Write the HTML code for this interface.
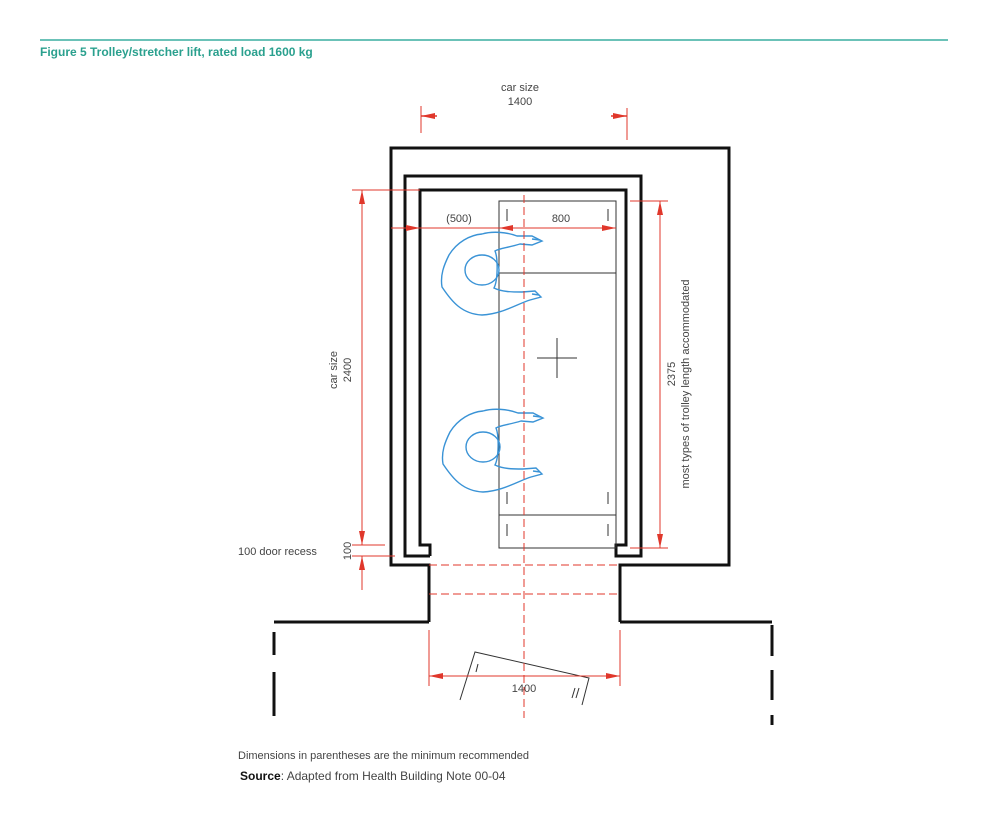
<!DOCTYPE html>
<html><head><meta charset="utf-8"><style>
html,body{margin:0;padding:0;background:#fff;}
svg{display:block;font-family:"Liberation Sans",sans-serif;}
</style></head><body>
<svg width="992" height="819" viewBox="0 0 992 819" xmlns="http://www.w3.org/2000/svg">
<defs>
<marker id="ar" viewBox="0 0 14 6" refX="14" refY="3" markerWidth="14" markerHeight="6" orient="auto-start-reverse" markerUnits="userSpaceOnUse"><path d="M0,0 L14,3 L0,6 Z" fill="#e0372b"/></marker>
<g id="fig" fill="none" stroke="#3a93d6" stroke-width="1.4">
<path d="M0,-36 C10,-39 25,-38 35,-34 L50,-34 L60,-29 L50,-25 L38,-26 C25,-22 18,-22 13,-19 C16,-12 16,10 12,18 C20,22 30,22 40,22 L53,21 L59,27 L48,30 C35,34 20,44 0,45 C-20,44 -30,32 -40,17 C-42,5 -38,-5 -33,-15 C-25,-28 -12,-35 0,-36 Z"/>
<ellipse cx="0" cy="0" rx="17" ry="15"/>
<path d="M50,-31 L58,-30 M50,24 L57,25"/>
</g>
</defs>
<line x1="40" y1="40" x2="948" y2="40" stroke="#3aaea0" stroke-width="1.5"/>
<text x="40" y="56" font-size="12" font-weight="bold" fill="#2aa08e">Figure 5 Trolley/stretcher lift, rated load 1600 kg</text>

<g fill="none" stroke="#111" stroke-width="3">
<polyline points="429,622 429,565 391,565 391,148 729,148 729,565 620,565 620,622"/>
<polyline points="274,622 429,622"/>
<polyline points="620,622 772,622"/>
<polyline points="430,556 405,556 405,176 641,176 641,556 616,556 616,545 626,545 626,190 420,190 420,545 430,545 430,556"/>
<line x1="274" y1="632" x2="274" y2="655"/><line x1="274" y1="672" x2="274" y2="716"/>
<line x1="772" y1="625" x2="772" y2="656"/><line x1="772" y1="670" x2="772" y2="700"/><line x1="772" y1="715" x2="772" y2="725"/>
</g>
<g fill="none" stroke="#333" stroke-width="1">
<rect x="499" y="201" width="117" height="347"/>
<line x1="499" y1="273" x2="616" y2="273"/><line x1="499" y1="515" x2="616" y2="515"/>
<line x1="507" y1="209" x2="507" y2="221"/><line x1="608" y1="209" x2="608" y2="221"/>
<line x1="507" y1="492" x2="507" y2="504"/><line x1="608" y1="492" x2="608" y2="504"/>
<line x1="507" y1="524" x2="507" y2="536"/><line x1="608" y1="524" x2="608" y2="536"/>
<line x1="537" y1="358" x2="577" y2="358"/><line x1="557" y1="338" x2="557" y2="378"/>
<polyline points="460,700 475,652 589,678 582,705"/>
<line x1="478" y1="664" x2="476" y2="672"/><line x1="575" y1="688" x2="572" y2="698"/><line x1="579" y1="688" x2="576" y2="698"/>
</g>
<use href="#fig" transform="translate(482,270)"/>
<use href="#fig" transform="translate(483,447)"/>
<g stroke="#e0372b" stroke-width="1" fill="none">
<line x1="524" y1="195" x2="524" y2="718" stroke-dasharray="8,4"/>
<line x1="429" y1="565" x2="620" y2="565" stroke-dasharray="8,4"/>
<line x1="429" y1="594" x2="620" y2="594" stroke-dasharray="8,4"/>
<line x1="421" y1="106" x2="421" y2="133"/><line x1="627" y1="108" x2="627" y2="140"/>
<line x1="437" y1="116" x2="421" y2="116" stroke-width="1.5" marker-end="url(#ar)"/>
<line x1="611" y1="116" x2="627" y2="116" stroke-width="1.5" marker-end="url(#ar)"/>
<line x1="352" y1="190" x2="420" y2="190"/>
<line x1="352" y1="545" x2="385" y2="545"/><line x1="352" y1="556" x2="395" y2="556"/>
<line x1="362" y1="190" x2="362" y2="545" marker-start="url(#ar)" marker-end="url(#ar)"/>
<line x1="362" y1="590" x2="362" y2="556" marker-end="url(#ar)"/>
<line x1="630" y1="201" x2="668" y2="201"/><line x1="630" y1="548" x2="668" y2="548"/>
<line x1="660" y1="201" x2="660" y2="548" marker-start="url(#ar)" marker-end="url(#ar)"/>
<line x1="391" y1="228" x2="420" y2="228" marker-end="url(#ar)"/>
<line x1="420" y1="228" x2="616" y2="228"/>
<line x1="524" y1="228" x2="499" y2="228" marker-end="url(#ar)"/>
<line x1="524" y1="228" x2="616" y2="228" marker-end="url(#ar)"/>
<line x1="429" y1="630" x2="429" y2="686"/><line x1="620" y1="630" x2="620" y2="686"/>
<line x1="429" y1="676" x2="620" y2="676" marker-start="url(#ar)" marker-end="url(#ar)"/>
</g>
<g fill="#444" font-size="11">
<text x="520" y="91" text-anchor="middle">car size</text>
<text x="520" y="105" text-anchor="middle">1400</text>
<text x="459" y="222" text-anchor="middle">(500)</text>
<text x="561" y="222" text-anchor="middle">800</text>
<text x="524" y="692" text-anchor="middle">1400</text>
<text x="238" y="555">100 door recess</text>
<text transform="translate(351,551) rotate(-90)" text-anchor="middle">100</text>
<text transform="translate(337,370) rotate(-90)" text-anchor="middle">car size</text>
<text transform="translate(351,370) rotate(-90)" text-anchor="middle">2400</text>
<text transform="translate(675,374) rotate(-90)" text-anchor="middle">2375</text>
<text transform="translate(689,384) rotate(-90)" text-anchor="middle">most types of trolley length accommodated</text>
<text x="238" y="759">Dimensions in parentheses are the minimum recommended</text>
<text x="240" y="780" font-size="12"><tspan font-weight="bold" fill="#111">Source</tspan>: Adapted from Health Building Note 00-04</text>
</g>
</svg>
</body></html>
